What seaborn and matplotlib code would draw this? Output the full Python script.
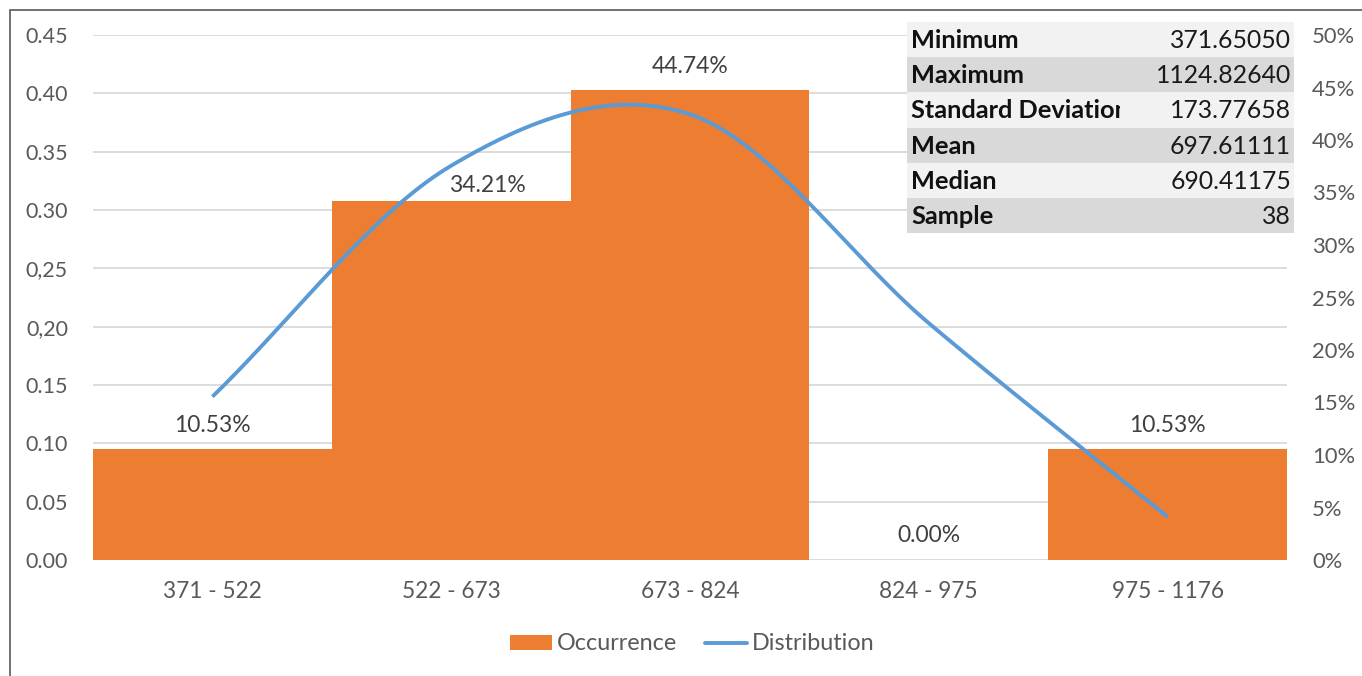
import numpy as np
import matplotlib
matplotlib.use("Agg")
import matplotlib.pyplot as plt
from matplotlib.patches import Rectangle, Patch
from matplotlib.lines import Line2D
import seaborn as sns

# ---- data -------------------------------------------------------------
categories = ["371 - 522", "522 - 673", "673 - 824", "824 - 975", "975 - 1176"]
occurrence_pct = [10.53, 34.21, 44.74, 0.00, 10.53]      # right axis (%)
distribution = [0.140, 0.338, 0.382, 0.203, 0.037]       # left axis
left_ticks = [0.00, 0.05, 0.10, 0.15, 0.20, 0.25, 0.30, 0.35, 0.40, 0.45]
left_tick_labels = ["0.00", "0.05", "0.10", "0.15", "0,20", "0,25",
                    "0.30", "0.35", "0.40", "0.45"]
right_ticks = [0, 5, 10, 15, 20, 25, 30, 35, 40, 45, 50]
stat_names = ["Minimum", "Maximum", "Standard Deviation", "Mean", "Median", "Sample"]
stat_values = ["371.65050", "1124.82640", "173.77658", "697.61111", "690.41175", "38"]

ORANGE = "#ED7D31"
BLUE = "#5B9BD5"
GRID = "#D9D9D9"
TEXT = "#595959"

sns.set_style("white")
plt.rcParams["font.family"] = ["Lato", "DejaVu Sans"]

W, H = 1362, 676
fig = plt.figure(figsize=(W / 100, H / 100), dpi=100)
fig.patch.set_facecolor("white")

# plot area in pixels
x0, x1, yb, yt = 93, 1287, 560, 35
ax = fig.add_axes([x0 / W, 1 - yb / H, (x1 - x0) / W, (yb - yt) / H])
ax2 = ax.twinx()   # bars, percent scale
ax3 = ax.twinx()   # smoothed distribution line, left scale


def smooth_curve(xs, ys, n=60):
    """Catmull-Rom spline through the points (Excel-like smoothed line)."""
    pts = np.column_stack([xs, ys]).astype(float)
    pad = np.vstack([2 * pts[0] - pts[1], pts, 2 * pts[-1] - pts[-2]])
    segs = []
    for i in range(len(pts) - 1):
        p0, p1, p2, p3 = pad[i], pad[i + 1], pad[i + 2], pad[i + 3]
        t = np.linspace(0, 1, n, endpoint=(i == len(pts) - 2))[:, None]
        seg = 0.5 * ((2 * p1) + (-p0 + p2) * t
                     + (2 * p0 - 5 * p1 + 4 * p2 - p3) * t ** 2
                     + (-p0 + 3 * p1 - 3 * p2 + p3) * t ** 3)
        segs.append(seg)
    return np.vstack(segs)


# bars
sns.barplot(x=categories, y=occurrence_pct, ax=ax2, color=ORANGE,
            saturation=1, width=1.0, edgecolor="none", zorder=2)

# line
xpos = np.arange(len(categories))
curve = smooth_curve(xpos, distribution)
sns.lineplot(x=curve[:, 0], y=curve[:, 1], ax=ax3, color=BLUE, lw=2.8,
             sort=False, estimator=None, solid_capstyle="butt")

# axis setup
for a in (ax, ax2, ax3):
    a.set_xlim(-0.5, len(categories) - 0.5)
    for s in a.spines.values():
        s.set_visible(False)
    a.tick_params(length=0)
    a.set_xlabel("")
    a.set_ylabel("")

ax.set_ylim(0, 0.45)
ax3.set_ylim(0, 0.45)
ax2.set_ylim(0, 50)

ax.set_yticks(left_ticks)
ax.set_yticklabels(left_tick_labels)
ax.tick_params(axis="y", labelsize=15.5, labelcolor=TEXT, pad=18)
ax.grid(axis="y", color=GRID, lw=1.3)
ax.grid(axis="x", visible=False)
ax.set_axisbelow(True)

ax2.set_yticks(right_ticks)
ax2.set_yticklabels([f"{t}%" for t in right_ticks])
ax2.tick_params(axis="y", labelsize=15.8, labelcolor=TEXT, pad=18)
ax2.grid(False)

ax3.set_yticks([])
ax3.grid(False)

ax.set_xticks(xpos)
ax.set_xticklabels(categories)
ax.tick_params(axis="x", labelsize=16.3, labelcolor=TEXT, pad=15)

# value labels over the bars
label_offsets = {1: (36, 15)}
for i, v in enumerate(occurrence_pct):
    dx, dy = label_offsets.get(i, (0, 24))
    ax2.annotate(f"{v:.2f}%", (i, v), xytext=(dx, dy),
                 textcoords="offset pixels", ha="center", va="center",
                 fontsize=16.5, color="#404040")

# legend
handles = [Patch(facecolor=ORANGE, edgecolor="none", label="Occurrence"),
           Line2D([], [], color=BLUE, lw=2.8, label="Distribution")]
fig.legend(handles=handles, loc="center", bbox_to_anchor=(692 / W, 1 - 644 / H),
           ncol=2, frameon=False, fontsize=16.8, labelcolor=TEXT,
           handlelength=1.8, handleheight=0.62, handletextpad=0.2,
           columnspacing=1.2)

# overlay in pixel coordinates for the statistics table and chart border
ov = fig.add_axes([0, 0, 1, 1], zorder=10)
ov.set_xlim(0, W)
ov.set_ylim(H, 0)
ov.axis("off")
ov.patch.set_visible(False)

tx0, tx1, name_clip = 907, 1294, 1120
row_top, row_h = 22, 35.2
for k, (name, val) in enumerate(zip(stat_names, stat_values)):
    y = row_top + k * row_h
    ov.add_patch(Rectangle((tx0, y), tx1 - tx0, row_h,
                           facecolor="#F2F2F2" if k % 2 == 0 else "#D9D9D9",
                           edgecolor="none"))
    clip = Rectangle((tx0, y), name_clip - tx0, row_h, transform=ov.transData,
                     facecolor="none", edgecolor="none")
    t = ov.text(tx0 + 4, y + row_h / 2 + 1, name, ha="left", va="center",
                fontsize=18.3, fontweight="bold", color="#111111", clip_on=True)
    t.set_clip_path(clip)
    ov.text(tx1 - 3, y + row_h / 2 + 1, val, ha="right", va="center",
            fontsize=17.8, color="#1a1a1a")

ov.plot([10, 10, W], [H, 10, 10], color="#595959", lw=1.2,
        solid_joinstyle="miter")

fig.savefig("out.png", dpi=100, facecolor="white")
